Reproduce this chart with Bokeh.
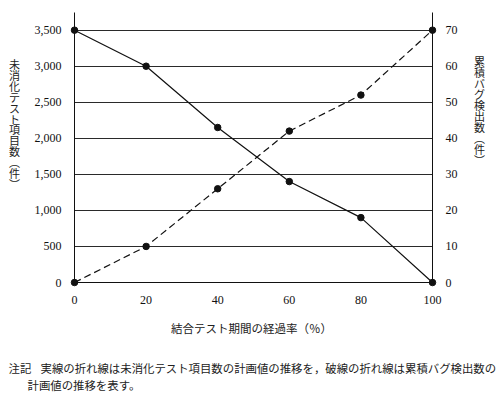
from bokeh.plotting import figure
from bokeh.models import Range1d, LinearAxis, FixedTicker
from bokeh.core.properties import value
from bokeh.embed import file_html
from bokeh.resources import INLINE

# ---- data ----
x_pct = [0, 20, 40, 60, 80, 100]
untested_items = [3500, 3000, 2150, 1400, 900, 0]
cum_bugs = [0, 10, 26, 42, 52, 70]

x_ticks = [0, 20, 40, 60, 80, 100]
left_ticks = [0, 500, 1000, 1500, 2000, 2500, 3000, 3500]
left_tick_labels = ["0", "500", "1,000", "1,500", "2,000", "2,500", "3,000", "3,500"]
right_ticks = [0, 10, 20, 30, 40, 50, 60, 70]
right_tick_labels = ["0", "10", "20", "30", "40", "50", "60", "70"]

left_title = "未消化テスト項目数（件）"
right_title = "累積バグ検出数（件）"
x_title = "結合テスト期間の経過率（％）"
note_head = "注記"
note_line1 = "実線の折れ線は未消化テスト項目数の計画値の推移を，破線の折れ線は累積バグ検出数の"
note_line2 = "計画値の推移を表す。"

CJK = "Noto Sans CJK JP"
SERIF = "Liberation Serif"


def vertical_chars(s):
    s = s.replace("（", "\ufe35").replace("）", "\ufe36")
    return list(s)


Y_MAX = 3745
R_MAX = Y_MAX / 50.0

FL, FT, FW, FH = 74, 12, 358, 270
W, H = 504, 395

p = figure(width=W, height=H,
           x_range=Range1d(0, 100), y_range=Range1d(0, Y_MAX),
           output_backend="svg", toolbar_location=None,
           min_border_left=FL, min_border_right=W - FL - FW,
           min_border_top=FT, min_border_bottom=H - FT - FH,
           background_fill_color="white", border_fill_color="white")
p.outline_line_color = None
p.extra_y_ranges = {"right": Range1d(0, R_MAX)}

# axes
p.xaxis.ticker = FixedTicker(ticks=x_ticks)
p.xaxis.major_tick_line_color = None
p.xaxis.minor_tick_line_color = None
p.xaxis.axis_line_color = "#111111"
p.xaxis.major_label_text_font = SERIF
p.xaxis.major_label_text_font_size = "12px"
p.xaxis.major_label_text_color = "#111111"
p.xaxis.major_label_standoff = 7

p.yaxis.ticker = FixedTicker(ticks=left_ticks)
p.yaxis.bounds = (0, Y_MAX)
p.yaxis.major_label_overrides = {t: l for t, l in zip(left_ticks, left_tick_labels)}
p.yaxis.major_tick_line_color = None
p.yaxis.minor_tick_line_color = None
p.yaxis.axis_line_color = "#111111"
p.yaxis.major_label_text_font = SERIF
p.yaxis.major_label_text_font_size = "12px"
p.yaxis.major_label_text_color = "#111111"
p.yaxis.major_label_standoff = 7

ra = LinearAxis(y_range_name="right", ticker=FixedTicker(ticks=right_ticks),
                bounds=(0, R_MAX))
ra.major_label_overrides = {t: l for t, l in zip(right_ticks, right_tick_labels)}
ra.major_tick_line_color = None
ra.minor_tick_line_color = None
ra.axis_line_color = "#111111"
ra.major_label_text_font = SERIF
ra.major_label_text_font_size = "12px"
ra.major_label_text_color = "#111111"
ra.major_label_standoff = 7
p.add_layout(ra, "right")

p.xgrid.grid_line_color = None
p.ygrid.ticker = FixedTicker(ticks=left_ticks)
p.ygrid.grid_line_color = "#2a2a2a"
p.ygrid.grid_line_width = 1

# series
p.line(x_pct, untested_items, line_color="#111111", line_width=1.2)
p.line(x_pct, cum_bugs, y_range_name="right", line_color="#111111",
       line_width=1.2, line_dash="7 4")
p.scatter(x_pct, untested_items, size=6.5, fill_color="#111111",
          line_color="#111111", level="overlay")
p.scatter(x_pct, cum_bugs, y_range_name="right", size=6.5,
          fill_color="#111111", line_color="#111111", level="overlay")

# text placed in data units
PX_X = FW / 100.0
PX_Y = FH / Y_MAX


def dx(px):
    return (px - FL) / PX_X


def dy(py):
    return (FT + FH - py) / PX_Y


def add_text(txt, px, py, align="left", size="11px"):
    p.text(x=[dx(px)], y=[dy(py)], text=[txt], text_font=value(CJK),
           text_font_size=value(size), text_align=align,
           text_baseline="middle", text_color="#222222", level="overlay")


def add_vertical(txt, px, py_first, step, size="11px"):
    chars = vertical_chars(txt)
    p.text(x=[dx(px)] * len(chars),
           y=[dy(py_first + i * step) for i in range(len(chars))],
           text=chars, text_font=value(CJK), text_font_size=value(size),
           text_align="center", text_baseline="middle",
           text_color="#222222", level="overlay")


add_vertical(left_title, 14, 63.5, 10.9)
add_vertical(right_title, 479, 60.5, 11.0)
add_text(x_title, 251, 327.5, align="center", size="11.5px")
add_text(note_head, 8, 367.5, size="11.4px")
add_text(note_line1, 40, 367.5, size="11.4px")
add_text(note_line2, 27, 384.5, size="11.4px")

open("out.html", "w").write(file_html(p, INLINE))
